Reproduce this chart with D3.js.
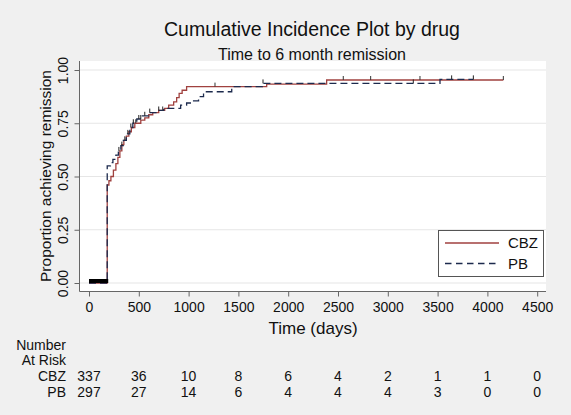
<!DOCTYPE html>
<html>
<head>
<meta charset="utf-8">
<script src="https://cdn.jsdelivr.net/npm/d3@7"></script>
<style>
  html, body { margin: 0; padding: 0; background: #f0f0f0; }
  svg { display: block; font-family: "Liberation Sans", Arial, sans-serif; }
</style>
</head>
<body>
<svg id="chart" width="571" height="415"></svg>
<script>
// ---------- data ----------
const title = "Cumulative Incidence Plot by drug";
const subtitle = "Time to 6 month remission";
const xTicks = [0, 500, 1000, 1500, 2000, 2500, 3000, 3500, 4000, 4500];
const yTicks = [0, 0.25, 0.5, 0.75, 1];
const groups = ["CBZ", "PB"];

// CBZ cumulative incidence steps
const cbzTimes = [0, 183, 200, 220, 245, 270, 290, 310, 330, 350, 375, 400, 425, 460, 520, 560, 600, 640, 700, 760, 800, 850, 880, 905, 935, 980, 1784, 2386];
const cbzProb  = [0, 0.46, 0.48, 0.50, 0.53, 0.56, 0.59, 0.62, 0.65, 0.67, 0.69, 0.71, 0.73, 0.75, 0.765, 0.775, 0.79, 0.80, 0.81, 0.82, 0.835, 0.85, 0.87, 0.89, 0.905, 0.922, 0.934, 0.953];
const cbzEnd = 4160;
const cbzCensor = [20, 35, 50, 65, 80, 95, 110, 125, 140, 155, 170, 740, 1265, 2553, 2828, 3323, 4160];

// PB cumulative incidence steps
const pbTimes = [0, 183, 215, 240, 270, 295, 320, 345, 375, 410, 440, 480, 530, 600, 680, 750, 920, 980, 1050, 1100, 1150, 1433, 1740, 3524];
const pbProb  = [0, 0.55, 0.565, 0.58, 0.60, 0.62, 0.645, 0.67, 0.70, 0.73, 0.75, 0.77, 0.785, 0.80, 0.81, 0.82, 0.835, 0.845, 0.855, 0.875, 0.898, 0.922, 0.937, 0.956];
const pbEnd = 3860;
const pbCensor = [15, 30, 45, 60, 75, 90, 105, 120, 135, 150, 165, 178, 300, 330, 360, 390, 420, 445, 470, 500, 520, 560, 610, 700, 1747, 3256, 3641, 3859];

// Number at risk
const riskCBZ = [337, 36, 10, 8, 6, 4, 2, 1, 1, 0];
const riskPB  = [297, 27, 14, 6, 4, 4, 4, 3, 0, 0];

// ---------- drawing ----------
const svg = d3.select("#chart");
const colCBZ = "#a0413f";
const colPB = "#1c2a4d";

const x = d3.scaleLinear().domain([0, 4500]).range([89, 537.2]);
const y = d3.scaleLinear().domain([0, 1]).range([283, 70]);

// plot region
svg.append("rect").attr("x", 80).attr("y", 61).attr("width", 466).attr("height", 230).attr("fill", "#ffffff");

// gridlines
svg.append("g").selectAll("line").data(yTicks).join("line")
  .attr("x1", 80).attr("x2", 546)
  .attr("y1", d => y(d)).attr("y2", d => y(d))
  .attr("stroke", "#e6e6e6").attr("stroke-width", 1.2);

// axes
const yAxis = d3.axisLeft(y).tickValues(yTicks).tickFormat(d3.format(".2f")).tickSize(5).tickPadding(4);
const gy = svg.append("g").attr("transform", "translate(79.5,0)").call(yAxis);
gy.select(".domain").attr("d", "M0,61V291.5").attr("stroke", "#666");
gy.selectAll(".tick line").attr("stroke", "#666");
gy.selectAll(".tick text")
  .attr("font-size", 14).attr("fill", "#111")
  .attr("text-anchor", "middle")
  .attr("transform", "rotate(-90)")
  .attr("x", 0).attr("y", -11.5).attr("dy", 0);

const xAxis = d3.axisBottom(x).tickValues(xTicks).tickFormat(d3.format("d")).tickSize(5).tickPadding(6);
const gx = svg.append("g").attr("transform", "translate(0,291.5)").call(xAxis);
gx.select(".domain").attr("d", "M79.5,0H546").attr("stroke", "#666");
gx.selectAll(".tick line").attr("stroke", "#666");
gx.selectAll(".tick text").attr("font-size", 14).attr("fill", "#111");

// axis titles
svg.append("text").attr("x", 313).attr("y", 334).attr("text-anchor", "middle")
  .attr("font-size", 17).attr("fill", "#111").text("Time (days)");
svg.append("text").attr("transform", "translate(51,176) rotate(-90)").attr("text-anchor", "middle")
  .attr("font-size", 15.5).attr("fill", "#111").text("Proportion achieving remission");

// titles
svg.append("text").attr("x", 312).attr("y", 36).attr("text-anchor", "middle")
  .attr("font-size", 19.5).attr("fill", "#111").text(title);
svg.append("text").attr("x", 312).attr("y", 59.5).attr("text-anchor", "middle")
  .attr("font-size", 16).attr("fill", "#111").text(subtitle);

// step curves
function stepData(times, probs, end) {
  const pts = times.map((t, i) => [t, probs[i]]);
  pts.push([end, probs[probs.length - 1]]);
  return pts;
}
const line = d3.line().x(d => x(d[0])).y(d => y(d[1])).curve(d3.curveStepAfter);

function probAt(times, probs, t) {
  let p = 0;
  for (let i = 0; i < times.length; i++) if (times[i] <= t) p = probs[i];
  return p;
}

svg.append("path").datum(stepData(cbzTimes, cbzProb, cbzEnd))
  .attr("d", line).attr("fill", "none").attr("stroke", colCBZ).attr("stroke-width", 1.3);
svg.append("path").datum(stepData(pbTimes, pbProb, pbEnd))
  .attr("d", line).attr("fill", "none").attr("stroke", colPB).attr("stroke-width", 1.3)
  .attr("stroke-dasharray", "7,4");

// censor marks
svg.append("g").selectAll("line").data(cbzCensor).join("line")
  .attr("x1", d => x(d)).attr("x2", d => x(d))
  .attr("y1", d => y(probAt(cbzTimes, cbzProb, d))).attr("y2", d => y(probAt(cbzTimes, cbzProb, d)) - 4)
  .attr("stroke", d => d < 183 ? "#000" : "#333").attr("stroke-width", d => d < 183 ? 3 : 1);
svg.append("g").selectAll("line").data(pbCensor).join("line")
  .attr("x1", d => x(d)).attr("x2", d => x(d))
  .attr("y1", d => y(probAt(pbTimes, pbProb, d))).attr("y2", d => y(probAt(pbTimes, pbProb, d)) - 4)
  .attr("stroke", d => d < 183 ? "#000" : "#222").attr("stroke-width", d => d < 183 ? 3 : 1);

// legend
const lg = svg.append("g");
lg.append("rect").attr("x", 438.5).attr("y", 230.5).attr("width", 105).attr("height", 46)
  .attr("fill", "#fff").attr("stroke", "#555").attr("stroke-width", 1);
lg.append("line").attr("x1", 445).attr("x2", 499).attr("y1", 243).attr("y2", 243)
  .attr("stroke", colCBZ).attr("stroke-width", 1.3);
lg.append("line").attr("x1", 445).attr("x2", 499).attr("y1", 263.5).attr("y2", 263.5)
  .attr("stroke", colPB).attr("stroke-width", 1.3).attr("stroke-dasharray", "6.5,4.5");
lg.append("text").attr("x", 508).attr("y", 248).attr("font-size", 15).attr("fill", "#111").text(groups[0]);
lg.append("text").attr("x", 508).attr("y", 268.5).attr("font-size", 15).attr("fill", "#111").text(groups[1]);

// number at risk table
const tf = 14;
svg.append("text").attr("x", 66).attr("y", 350).attr("text-anchor", "end").attr("font-size", tf).attr("fill", "#111").text("Number");
svg.append("text").attr("x", 66).attr("y", 365).attr("text-anchor", "end").attr("font-size", tf).attr("fill", "#111").text("At Risk");
svg.append("text").attr("x", 66).attr("y", 381).attr("text-anchor", "end").attr("font-size", tf).attr("fill", "#111").text(groups[0]);
svg.append("text").attr("x", 66).attr("y", 397).attr("text-anchor", "end").attr("font-size", tf).attr("fill", "#111").text(groups[1]);
svg.append("g").selectAll("text").data(riskCBZ).join("text")
  .attr("x", (d, i) => x(xTicks[i])).attr("y", 381).attr("text-anchor", "middle")
  .attr("font-size", tf).attr("fill", "#111").text(d => d);
svg.append("g").selectAll("text").data(riskPB).join("text")
  .attr("x", (d, i) => x(xTicks[i])).attr("y", 397).attr("text-anchor", "middle")
  .attr("font-size", tf).attr("fill", "#111").text(d => d);
</script>
</body>
</html>
